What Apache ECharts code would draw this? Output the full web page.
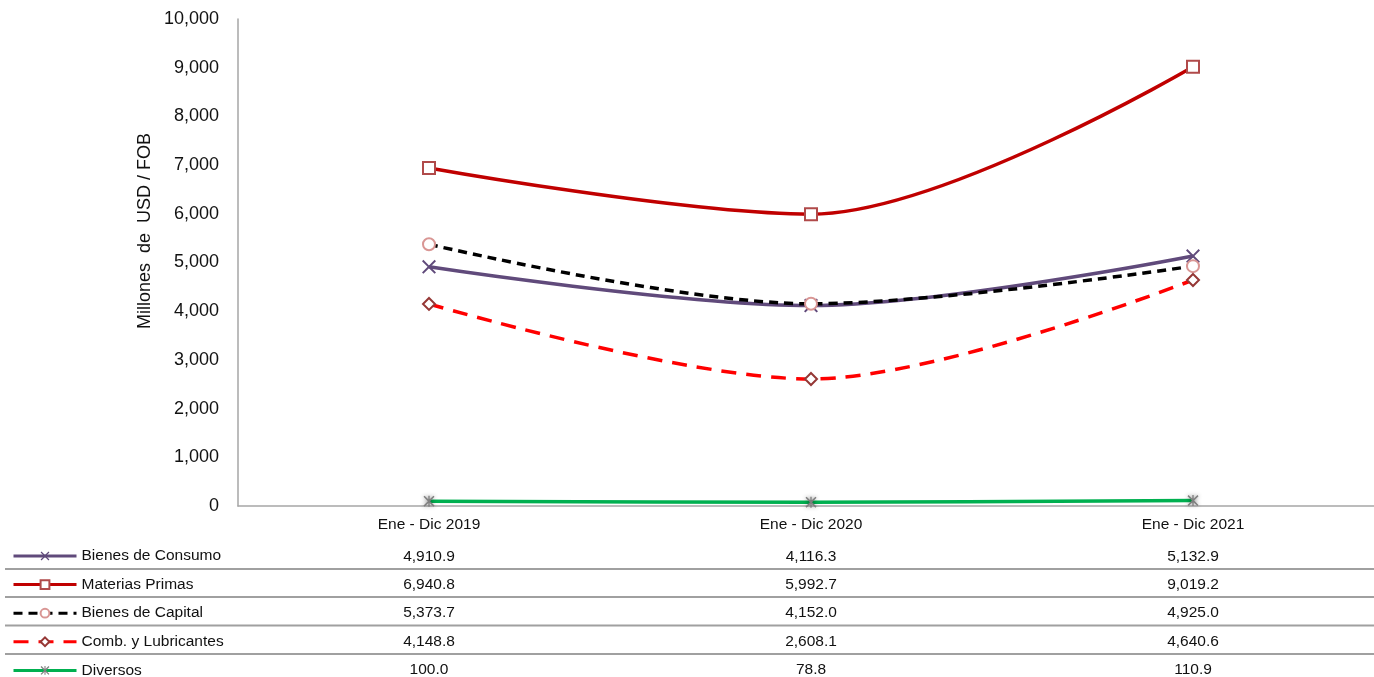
<!DOCTYPE html>
<html>
<head>
<meta charset="utf-8">
<script src="https://cdn.jsdelivr.net/npm/echarts@6/dist/echarts.min.js"></script>
<style>
html,body{margin:0;padding:0;background:#fff;overflow:hidden;width:1374px;height:677px;}
#chart{width:1392px;height:700px;}
</style>
</head>
<body>
<div id="chart"></div>
<script>
// ---- data ----
const categories = ['Ene - Dic 2019', 'Ene - Dic 2020', 'Ene - Dic 2021'];
const seriesNames = ['Bienes de Consumo', 'Materias Primas', 'Bienes de Capital', 'Comb. y Lubricantes', 'Diversos'];
const bienesConsumo = [4910.9, 4116.3, 5132.9];
const materiasPrimas = [6940.8, 5992.7, 9019.2];
const bienesCapital = [5373.7, 4152.0, 4925.0];
const combLubricantes = [4148.8, 2608.1, 4640.6];
const diversos = [100.0, 78.8, 110.9];
const yAxisTitle = 'Millones  de  USD / FOB';
const yMin = 0, yMax = 10000, yStep = 1000;

const tableRows = [bienesConsumo, materiasPrimas, bienesCapital, combLubricantes, diversos];

const fmt1 = v => v.toLocaleString('en-US', {minimumFractionDigits: 1, maximumFractionDigits: 1});
const fmt0 = v => v.toLocaleString('en-US');

const FONT = '"Liberation Sans", Arial, sans-serif';
const chart = echarts.init(document.getElementById('chart'), null, {renderer: 'canvas'});

const X_PATH = 'path://M1,0L5,4L9,0L10,1L6,5L10,9L9,10L5,6L1,10L0,9L4,5L0,1Z';
const STAR_PATH = 'path://M1,0L5,4L9,0L10,1L6,5L10,9L9,10L5,6L1,10L0,9L4,5L0,1Z M4.4,0L5.6,0L5.6,10L4.4,10Z';

const rowOffsets = [32, 60, 88, 117, 145];

const xAxes = [{
  type: 'category', gridIndex: 0, data: categories, position: 'bottom',
  boundaryGap: true,
  axisLine: {show: true, lineStyle: {color: '#a6a6a6', width: 1.5}},
  axisTick: {show: false},
  axisLabel: {margin: 10, color: '#111', fontFamily: FONT, fontSize: 15.5, lineHeight: 18},
  splitLine: {show: false}
}];
tableRows.forEach((row, k) => {
  xAxes.push({
    type: 'category', gridIndex: 0, data: categories, position: 'bottom',
    offset: rowOffsets[k],
    axisLine: {show: false}, axisTick: {show: false}, splitLine: {show: false},
    axisLabel: {margin: 10, color: '#111', fontFamily: FONT, fontSize: 15.5, lineHeight: 18,
      formatter: (v, i) => fmt1(row[i])}
  });
});

const common = {type: 'line', xAxisIndex: 0, yAxisIndex: 0, smooth: 0.33, showSymbol: true,
  emphasis: {disabled: true}, z: 3};

const option = {
  animation: false,
  grid: {left: 238, top: 19, width: 1146, height: 487, containLabel: false},
  xAxis: xAxes,
  yAxis: {
    type: 'value', min: yMin, max: yMax, interval: yStep,
    axisLine: {show: true, lineStyle: {color: '#a6a6a6', width: 1.5}},
    axisTick: {show: false},
    splitLine: {show: false},
    axisLabel: {margin: 19, color: '#111', fontFamily: FONT, fontSize: 18, formatter: v => fmt0(v)}
  },
  legend: {
    orient: 'vertical', left: 12, top: 548, padding: 0, itemWidth: 63, itemHeight: 11, itemGap: 12.6,
    selectedMode: false,
    lineStyle: {width: 3},
    textStyle: {color: '#111', fontFamily: FONT, fontSize: 15.5},
    data: seriesNames
  },
  graphic: [
    {type: 'text', x: 145, y: 231, rotation: Math.PI / 2,
      style: {text: yAxisTitle, fill: '#111', font: '18px ' + FONT, align: 'center', verticalAlign: 'middle'}},
    ...[569, 597, 625.5, 654].map(y => ({type: 'line', shape: {x1: 5, y1: y, x2: 1392, y2: y},
      style: {stroke: '#a0a0a0', lineWidth: 2}, z: 1}))
  ],
  series: [
    Object.assign({}, common, {
      name: seriesNames[0], data: bienesConsumo,
      symbol: X_PATH, symbolSize: 14,
      lineStyle: {color: '#604A7B', width: 3.5},
      itemStyle: {color: '#604A7B', borderWidth: 0}
    }),
    Object.assign({}, common, {
      name: seriesNames[1], data: materiasPrimas,
      symbol: 'rect', symbolSize: 12,
      lineStyle: {color: '#C00000', width: 3.5},
      itemStyle: {color: '#ffffff', borderColor: '#B04A4A', borderWidth: 2}
    }),
    Object.assign({}, common, {
      name: seriesNames[2], data: bienesCapital,
      symbol: 'circle', symbolSize: 12,
      lineStyle: {color: '#000000', width: 3.5, type: [9, 6]},
      itemStyle: {color: '#ffffff', borderColor: '#D99694', borderWidth: 2}
    }),
    Object.assign({}, common, {
      name: seriesNames[3], data: combLubricantes,
      symbol: 'diamond', symbolSize: 12,
      lineStyle: {color: '#FF0000', width: 3.5, type: [15, 10]},
      itemStyle: {color: '#ffffff', borderColor: '#953735', borderWidth: 2}
    }),
    Object.assign({}, common, {
      name: seriesNames[4], data: diversos,
      symbol: STAR_PATH, symbolSize: 11,
      lineStyle: {color: '#00B050', width: 3.5},
      itemStyle: {color: '#7f7f7f', shadowBlur: 4, shadowColor: 'rgba(0,0,0,0.45)'}
    })
  ]
};
chart.setOption(option);
</script>
</body>
</html>
